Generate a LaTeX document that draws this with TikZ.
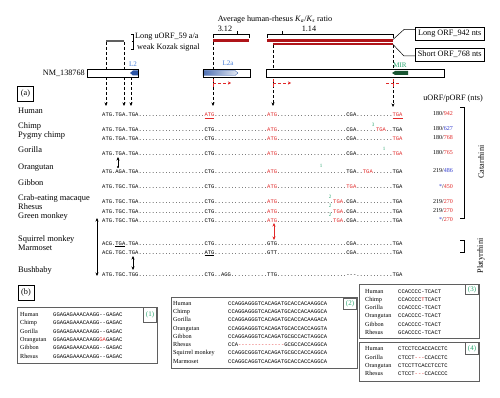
\documentclass[tikz,border=0pt]{standalone}
\usepackage{fontspec}
\setmainfont{Liberation Serif}
\setmonofont{Liberation Mono}
\usetikzlibrary{arrows.meta}
\definecolor{dred}{RGB}{175,20,25}
\definecolor{sred}{RGB}{225,40,40}
\definecolor{sblue}{RGB}{45,55,205}
\definecolor{sgreen}{RGB}{40,165,110}
\definecolor{lblue}{RGB}{70,125,215}
\definecolor{abl}{RGB}{45,85,165}
\definecolor{mirg}{RGB}{25,85,50}
\definecolor{bxg}{RGB}{95,95,95}
\newcommand\dotsrun[1]{\ifnum#1>0 .\expandafter\dotsrun\expandafter{\the\numexpr#1-1\relax}\fi}
\newcommand\rd[1]{\textcolor{sred}{#1}}
\newcommand\bl[1]{\textcolor{sblue}{#1}}
\begin{document}
\begin{tikzpicture}[x=1pt,y=-1pt,
  sp/.style={font=\fontsize{8.4}{9}\selectfont,anchor=base west,inner sep=0pt},
  sq/.style={font=\fontsize{5.5}{6}\selectfont\ttfamily,anchor=base west,inner sep=0pt},
  nm/.style={font=\fontsize{6}{7}\selectfont,anchor=base east,inner sep=0pt},
  bsp/.style={font=\fontsize{6.2}{7}\selectfont,anchor=base west,inner sep=0pt},
  lbl/.style={font=\fontsize{8.2}{9}\selectfont,inner sep=0pt},
  gsup/.style={font=\fontsize{5}{6}\selectfont,text=sgreen,inner sep=0pt},
  dar/.style={densely dashed,line width=0.5pt,-{Stealth[length=3.5pt,width=3pt]}},
  rdar/.style={draw=sred,densely dashed,line width=0.5pt,-{Stealth[length=3pt,width=3pt]}},
  rtick/.style={draw=sred,densely dashed,line width=0.5pt},
  dbl/.style={line width=0.5pt,{Stealth[length=3.5pt,width=3pt]}-{Stealth[length=3.5pt,width=3pt]}},
  exon/.style={draw,fill=white,line width=0.5pt,inner sep=0pt,minimum height=8pt,anchor=north west},
  orfbox/.style={draw,line width=0.5pt,lbl,minimum width=69pt,minimum height=13pt,anchor=west},
  outer/.style={draw=bxg,line width=0.9pt},
  tagbox/.style={draw=bxg,line width=0.9pt,inner sep=0pt,anchor=north east,minimum width=13pt,minimum height=12pt,text=sgreen,font=\fontsize{7}{8}\selectfont},
  lettbox/.style={draw,line width=0.6pt,lbl,inner sep=0pt,minimum width=16pt,minimum height=15pt}
]
\useasboundingbox (0,0) rectangle (500,398);
\fill[white] (0,0) rectangle (500,398);

% ---------- top annotations ----------
\node[lbl] (avg) at (275,20) {Average human-rhesus \textit{K}\textsubscript{\textit{a}}/\textit{K}\textsubscript{\textit{s}} ratio};
\node[lbl] (v312) at (225,29) {3.12};
\node[lbl] (v114) at (309,29) {1.14};
\draw[line width=0.5pt] (213,38) -- (213,34) -- (249,34) -- (249,38);
\draw[line width=0.5pt] (237,34) -- (237,31);
\draw[line width=0.5pt] (267,38) -- (267,34) -- (393,34) -- (393,38);
\draw[line width=0.5pt] (282,34) -- (282,31);
\fill[dred] (213,39) rectangle (249,41.6);
\fill[dred] (267,39) rectangle (393,41.6);
\fill[dred] (273,42.6) rectangle (393,45.2);

\node[orfbox] (longorf) at (415,34) {Long ORF\_942 nts};
\node[orfbox] (shortorf) at (415,54.5) {Short ORF\_768 nts};
\coordinate (lend) at (393,39.5);
\coordinate (send) at (393,44.5);
\draw[line width=0.5pt] (lend) -- (404,29.5) -- (longorf.west |- 0,29.5);
\draw[line width=0.5pt] (send) -- (404,56) -- (shortorf.west |- 0,56);

% uORF grey bar and label
\coordinate (u1) at (106,41);
\coordinate (u2) at (124,41);
\draw[line width=2.4pt,gray!75!black] (u1) -- (u2);
\draw[line width=0.5pt] (131,34) -- (133,34) -- (133,49) -- (131,49);
\draw[line width=0.5pt] (133,41) -- (131.5,41);
\node[lbl,anchor=west] (kz1) at (135,37) {Long uORF\_59 a/a};
\node[lbl,anchor=west] (kz2) at (137,48) {weak Kozak signal};

% dashed vertical arrows (under boxes)
\coordinate (a1) at (106,106);
\coordinate (a2) at (124,106);
\coordinate (a3) at (131,106);
\coordinate (a4) at (213,106);
\coordinate (a5) at (273,106);
\coordinate (a6) at (393,107);
\coordinate (b3) at (131,77);
\coordinate (b4) at (213,42);
\coordinate (b5) at (273,45.5);
\coordinate (b6) at (393,45.5);
\draw[dar] (106,42) -- (a1);
\draw[dar] (124,42) -- (a2);
\draw[dar] (b3) -- (a3);
\draw[dar] (b4) -- (a4);
\draw[dar] (b5) -- (a5);
\draw[dar] (b6) -- (a6);

% transcript
\node[lbl,anchor=east] (nm) at (85,73) {NM\_138768};
\node[exon,minimum width=51pt] (ex1) at (87,69) {};
\node[exon,minimum width=47pt] (ex2) at (203,69) {};
\node[exon,minimum width=178pt] (ex3) at (266,69) {};
\fill[abl] (138,70.5) -- (133,70.5) -- (130,73) -- (133,75.5) -- (138,75.5) -- cycle;
\node[font=\fontsize{7}{8}\selectfont,text=lblue,inner sep=0pt] (l2) at (133,64) {L2};
\shade[left color=abl!85,right color=abl!12,draw=abl,line width=0.3pt] (203,70.5) -- (235,70.5) -- (238,73) -- (235,75.5) -- (203,75.5) -- cycle;
\node[font=\fontsize{7}{8}\selectfont,text=lblue,inner sep=0pt] (l2a) at (228,63.5) {L2a};
\fill[mirg] (408,71) -- (395,71) -- (392,73) -- (395,75) -- (408,75) -- cycle;
\node[font=\fontsize{7}{8}\selectfont,text=sgreen,inner sep=0pt] (mir) at (400,65) {MIR};
\draw[line width=0.5pt] (ex1.north west) rectangle (ex1.south east);
\draw[line width=0.5pt] (ex2.north west) rectangle (ex2.south east);

% red dashed start/stop marks
\draw[rtick] (213,79) -- (213,87);
\draw[rdar] (213,83) -- (231,83);
\draw[rtick] (273,79) -- (273,87);
\draw[rdar] (273,83) -- (291,83);
\draw[rtick] (393,79) -- (393,87);
\draw[rtick] (386,83.5) -- (399,83.5);

% ---------- panel (a) ----------
\node[lettbox] (pa) at (25.5,94) {(a)};
\node[lbl] (hdr) at (453,99) {uORF/pORF (nts)};

\node[sp] (lHu) at (18,113.5) {Human};
\node[sq] (sHu) at (102,117) {ATG.TGA.TGA\dotsrun{20}\rd{\underline{ATG}}\dotsrun{16}\rd{ATG}\dotsrun{21}CGA\dotsrun{11}\rd{\underline{TGA}}};
\node[nm] (nHu) at (453,116) {180/\rd{942}};

\node[sp] (lCh) at (18,128.5) {Chimp};
\node[sq] (sCh) at (102,132) {ATG.TGA.TGA\dotsrun{20}CTG\dotsrun{16}\rd{ATG}\dotsrun{21}CGA\dotsrun{6}\rd{TGA}\dotsrun{2}TGA};
\node[gsup] (gCh) at (373,125) {3};
\node[nm] (nCh) at (453,131) {180/\bl{627}};

\node[sp] (lPy) at (18,137.5) {Pygmy chimp};
\node[sq] (sPy) at (102,141) {ATG.TGA.TGA\dotsrun{20}CTG\dotsrun{16}\rd{ATG}\dotsrun{21}CGA\dotsrun{11}\rd{TGA}};
\node[nm] (nPy) at (453,140) {180/\rd{768}};

\node[sp] (lGo) at (18,152.5) {Gorilla};
\node[sq] (sGo) at (102,156) {ATG.TGA.TGA\dotsrun{20}CTG\dotsrun{16}\rd{ATG}\dotsrun{21}CGA\dotsrun{11}\rd{TGA}};
\node[gsup] (gGo) at (384,149) {1};
\node[nm] (nGo) at (453,155) {180/\rd{765}};

\node[sp] (lOr) at (18,169.5) {Orangutan};
\node[sq] (sOr) at (102,173) {ATG.AGA.TGA\dotsrun{20}CTG\dotsrun{16}\rd{ATG}\dotsrun{21}TGA\dotsrun{2}\rd{TGA}\dotsrun{6}TGA};
\node[gsup] (gOr) at (321,166) {1};
\node[nm] (nOr) at (453,172) {219/\bl{486}};

\node[sp] (lGi) at (18,185.5) {Gibbon};
\node[sq] (sGi) at (102,189) {ATG.TGC.TGA\dotsrun{20}CTG\dotsrun{16}\rd{ATG}\dotsrun{21}\rd{TGA}\dotsrun{11}TGA};
\node[nm] (nGi) at (453,188) {\bl{*}/\rd{450}};

\node[sp] (lCr) at (18,200.5) {Crab-eating macaque};
\node[sq] (sCr) at (102,204) {ATG.TGC.TGA\dotsrun{20}CTG\dotsrun{16}\rd{ATG}\dotsrun{17}\rd{TGA}.CGA\dotsrun{11}TGA};
\node[gsup] (gCr) at (330,197) {2};
\node[nm] (nCr) at (453,203) {219/\rd{270}};

\node[sp] (lRh) at (18,209.5) {Rhesus};
\node[sq] (sRh) at (102,213) {ATG.TGC.TGA\dotsrun{20}CTG\dotsrun{16}\rd{ATG}\dotsrun{17}\rd{TGA}.CGA\dotsrun{11}TGA};
\node[gsup] (gRh) at (330,206) {2};
\node[nm] (nRh) at (453,212) {219/\rd{270}};

\node[sp] (lGr) at (18,218.5) {Green monkey};
\node[sq] (sGr) at (102,222) {ATG.TGC.TGA\dotsrun{20}CTG\dotsrun{16}\rd{ATG}\dotsrun{17}\rd{TGA}.CGA\dotsrun{11}TGA};
\node[gsup] (gGr) at (330,215) {2};
\node[nm] (nGr) at (453,221) {\bl{*}/\rd{270}};

\node[sp] (lSq) at (18,241.5) {Squirrel monkey};
\node[sq] (sSq) at (102,245) {ACG.\underline{TGA}.TGA\dotsrun{20}CTG\dotsrun{16}GTG\dotsrun{21}CGA\dotsrun{11}TGA};

\node[sp] (lMa) at (18,250.5) {Marmoset};
\node[sq] (sMa) at (102,254) {ACG.TGC.TGA\dotsrun{20}\underline{ATG}\dotsrun{16}GTT\dotsrun{21}CGA\dotsrun{11}TGA};

\node[sp] (lBu) at (18,272.5) {Bushbaby};
\node[sq] (sBu) at (102,276) {ATG.TGC.TGG\dotsrun{20}CTG..AGG\dotsrun{11}TTG\dotsrun{21}---\dotsrun{11}TGA};

% arrows in panel (a)
\coordinate (v1) at (97,218);
\coordinate (v2) at (97,276);
\draw[dbl] (v1) -- (v2);
\coordinate (w1) at (133,256);
\coordinate (w2) at (133,270);
\draw[dbl] (w1) -- (w2);
\coordinate (o1) at (118,167);
\coordinate (o2) at (118,157);
\draw[line width=0.5pt,-{Stealth[length=3.5pt,width=3pt]}] (o1) -- (o2);
\fill (o1) circle (1.2pt);
\coordinate (r1) at (274,223);
\coordinate (r2) at (274,240);
\draw[dbl,draw=sred,sred] (r1) -- (r2);

% clade brackets
\draw[line width=0.5pt] (460,107) -- (464,107) -- (464,218) -- (460,218);
\node[lbl,rotate=90] (cat) at (481,162) {Catarrhini};
\draw[line width=0.5pt] (460,240) -- (464,240) -- (464,252) -- (460,252);
\node[lbl,rotate=90] (pla) at (481,256) {Platyrrhini};

% ---------- panel (b) ----------
\node[lettbox] (pb) at (26,293) {(b)};

% box 1
\draw[outer] (17,307) rectangle (157,363);
\node[tagbox,minimum height=15pt] (t1) at (157,307) {(1)};
\foreach \n/\s/\y in {Human/GGAGAGAAACAAGG--GAGAC/314,Chimp/GGAGAGAAACAAGG--GAGAC/322,Gorilla/GGAGAGAAACAAGG--GAGAC/331,Orangutan/GGAGAGAAACAAGG\rd{GA}GAGAC/339,Gibbon/GGAGAGAAACAAGG--GAGAC/347,Rhesus/GGAGAGAAACAAGG--GAGAC/356}{
  \node[bsp] (b1n\y) at (20,\y+2) {\n};
  \node[sq] (b1s\y) at (53,\y+2) {\s};
}

% box 2
\draw[outer] (171,297) rectangle (357,368);
\node[tagbox,minimum height=11pt] (t2) at (357,298) {(2)};
\foreach \n/\s/\y in {Human/CCAGGAGGGTCACAGATGCACCACAAGGCA/303,Chimp/CCAGGAGGGTCACAGATGCACCACAAGGCA/311,Gorilla/CCAGGAGGGTCACAGATGCACCACAAGACA/319,Orangutan/CCAGGAGGGTCACAGATGCACCACCAGGTA/328,Gibbon/CCAGGAGGGTCACAGATGCGCCACTAGGCA/336,Rhesus/CCA\rd{--------------}GCGCCACCAGGCA/344,Squirrel monkey/CCAGGCGGGTCACAGATGCGCCACCAGGCA/352,Marmoset/CCAGGCAGGTCACAGATGCACCACCAGGCA/361}{
  \node[bsp] (b2n\y) at (173,\y+2) {\n};
  \node[sq] (b2s\y) at (228,\y+2) {\s};
}

% box 3
\draw[outer] (359,284) rectangle (479,338);
\node[tagbox,minimum height=10pt] (t3) at (479,284) {(3)};
\foreach \n/\s/\y in {Human/CCACCCC-TCACT/291,Chimp/CCACCCC\rd{T}TCACT/299,Gorilla/CCACCCC-TCACT/307,Orangutan/CCACCCC-TCACT/315,Gibbon/CCACCCC-TCACT/324,Rhesus/GCACCCC-TCACT/332}{
  \node[bsp] (b3n\y) at (365,\y+2) {\n};
  \node[sq] (b3s\y) at (398,\y+2) {\s};
}

% box 4
\draw[outer] (359,342) rectangle (479,381);
\node[tagbox,minimum height=12pt] (t4) at (479,342) {(4)};
\foreach \n/\s/\y in {Human/CTCCTCCACCACCTC/348,Gorilla/CTCCT\rd{---}CCACCTC/357,Orangutan/CTCCTTCACCTCCTC/365,Rhesus/CTCCT\rd{---}CCACCCC/373}{
  \node[bsp] (b4n\y) at (365,\y+2) {\n};
  \node[sq] (b4s\y) at (398,\y+2) {\s};
}
\end{tikzpicture}
\end{document}
